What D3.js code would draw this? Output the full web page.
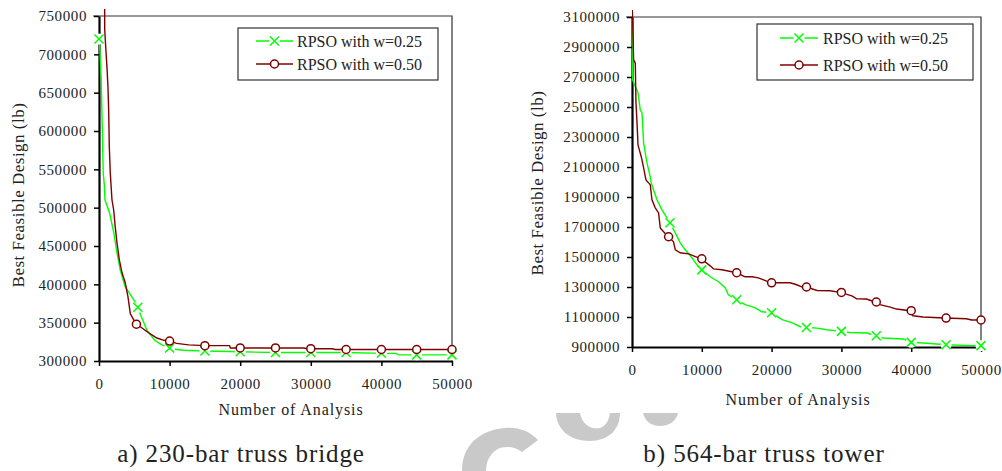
<!DOCTYPE html>
<html>
<head>
<meta charset="utf-8">
<script src="https://cdn.jsdelivr.net/npm/d3@7"></script>
<style>
  body { margin: 0; background: #fff; }
  svg { display: block; font-family: "Liberation Serif", "Times New Roman", serif; }
</style>
</head>
<body>
<svg width="1002" height="471"></svg>
<script>
//series names
var seriesNames = ["RPSO with w=0.25", "RPSO with w=0.50"];
var xTicks = [0, 10000, 20000, 30000, 40000, 50000];

//a) 230-bar truss bridge
var bridgeYTicks = [300000, 350000, 400000, 450000, 500000, 550000, 600000, 650000, 700000, 750000];
var bridgeW25 = [[0,720000],[100,710000],[300,670000],[500,590000],[600,545000],[750,530000],[850,510000],[1500,493000],[2100,467000],[2550,441000],[3000,419000],[3700,397000],[4700,383000],[5100,377000],[5500,370000],[5900,360000],[6800,340000],[7900,327000],[8900,321000],[10000,317000],[11000,315000],[12000,314000],[15000,313000],[20000,312000],[25000,311000],[30000,311000],[35000,311000],[40000,310000],[42000,310000],[42500,308000],[50000,308000]];
var bridgeW50 = [[800,770000],[810,732000],[1000,702000],[1130,683000],[1270,657000],[1370,627000],[1460,579000],[1600,545000],[1750,523000],[1840,510000],[2080,497000],[2300,475000],[2550,454000],[2880,432000],[3260,415000],[3720,402000],[4100,384000],[4430,362000],[4900,354000],[5300,348000],[6100,343000],[7000,337000],[8200,330000],[9200,327000],[10000,326000],[11000,323000],[12700,321000],[15000,320000],[18500,320000],[18600,317000],[29000,317000],[29500,316000],[33000,316000],[33500,315000],[50000,315000]];
var bridgeW25Marks = [[0,720000],[5500,370000],[10000,317000],[15000,313000],[20000,312000],[25000,311000],[30000,311000],[35000,311000],[40000,310000],[45000,308000],[50000,308000]];
var bridgeW50Marks = [[5300,348000],[10000,326000],[15000,320000],[20000,317000],[25000,317000],[30000,316000],[35000,315000],[40000,315000],[45000,315000],[50000,315000]];

//b) 564-bar truss tower
var towerYTicks = [900000, 1100000, 1300000, 1500000, 1700000, 1900000, 2100000, 2300000, 2500000, 2700000, 2900000, 3100000];
var towerW25 = [[0,3200000],[90,3058000],[100,2680000],[470,2636000],[720,2614000],[860,2594000],[1050,2527000],[1190,2480000],[1430,2460000],[1520,2394000],[1660,2261000],[1900,2194000],[2150,2127000],[2380,2081000],[2620,2034000],[2760,1994000],[3090,1947000],[3580,1881000],[4290,1814000],[5010,1761000],[5440,1728000],[6200,1661000],[6910,1594000],[7630,1548000],[8590,1495000],[9300,1448000],[10000,1414000],[11200,1368000],[12400,1335000],[13350,1295000],[13800,1248000],[15000,1215000],[16200,1182000],[17600,1162000],[18600,1135000],[20000,1128000],[21500,1082000],[22900,1062000],[24100,1035000],[25000,1030000],[26500,1026000],[27900,1015000],[30000,1004000],[31200,997000],[33600,993000],[35000,975000],[36000,960000],[38900,953000],[40000,931000],[41700,927000],[43600,920000],[45000,915000],[48700,909000],[50000,909000]];
var towerW50 = [[0,3200000],[100,3060000],[230,2814000],[470,2793000],[570,2527000],[720,2394000],[860,2247000],[1050,2214000],[1330,2167000],[1520,2127000],[1720,2081000],[2000,2014000],[2380,1994000],[2620,1981000],[2860,1881000],[3330,1828000],[3810,1794000],[4050,1694000],[4520,1668000],[5240,1635000],[5950,1601000],[6200,1548000],[6910,1528000],[8100,1521000],[8820,1508000],[9920,1488000],[11200,1441000],[11680,1421000],[12880,1415000],[15000,1395000],[16200,1368000],[17200,1368000],[18100,1361000],[19900,1328000],[22650,1328000],[23600,1315000],[24300,1301000],[25000,1300000],[26500,1277000],[28400,1275000],[29800,1264000],[31500,1241000],[32200,1221000],[33600,1220000],[34800,1200000],[35500,1182000],[37000,1166000],[37900,1153000],[39800,1142000],[40250,1108000],[41700,1100000],[44800,1093000],[47900,1088000],[48650,1080000],[50000,1080000]];
var towerW25Marks = [[5440,1728000],[10000,1414000],[15000,1215000],[20000,1128000],[25000,1030000],[30000,1004000],[35000,975000],[40000,931000],[45000,915000],[50000,909000]];
var towerW50Marks = [[5240,1635000],[10000,1488000],[15000,1395000],[20000,1328000],[25000,1300000],[30000,1264000],[35000,1200000],[40000,1142000],[45000,1093000],[50000,1080000]];

var GREEN = "#00ff00", RED = "#800000", INK = "#222";

var svg = d3.select("svg");

//faint watermark behind everything
var wm = svg.append("g").attr("fill", "#c9c9c9");
wm.append("path").attr("d", "M462,471 C462,445 480,430 505,428 C520,427 530,432 538,440 L522,452 C515,447 508,446 500,448 C490,452 486,462 486,471 Z");
wm.append("path").attr("d", "M556,413 L580,413 C582,425 592,430 600,428 C606,426 609,420 610,413 L620,413 C620,430 608,441 590,441 C570,441 557,430 556,413 Z");
wm.append("path").attr("d", "M643,413 L678,413 C676,422 668,426 660,426 C651,426 645,421 643,413 Z");

function drawPanel(p) {
    var x = d3.scaleLinear().domain([0, 50000]).range([p.left, p.right]);
    var y = d3.scaleLinear().domain(p.yDomain).range([p.bottom, p.top]);

    var g = svg.append("g");

    //frame top + right
    g.append("path")
        .attr("d", "M" + (p.left - 6) + "," + p.top + "H" + p.right + "V" + p.bottom)
        .attr("fill", "none").attr("stroke", "#333").attr("stroke-width", 1.2);

    //y axis
    var yAxis = g.append("g")
        .attr("transform", "translate(" + p.left + ",0)")
        .call(d3.axisLeft(y).tickValues(p.yTicks).tickSize(5).tickSizeOuter(0).tickPadding(7).tickFormat(d3.format("d")));
    //x axis
    var xAxis = g.append("g")
        .attr("transform", "translate(0," + p.bottom + ")")
        .call(d3.axisBottom(x).tickValues(xTicks).tickSize(5).tickSizeOuter(0).tickPadding(12).tickFormat(d3.format("d")));

    [yAxis, xAxis].forEach(function (a) {
        a.select(".domain").attr("stroke", "#000").attr("stroke-width", 2.2);
        a.selectAll(".tick line").attr("stroke", "#000").attr("stroke-width", 1.5);
        a.selectAll("text")
            .attr("fill", INK)
            .style("font-family", "'Liberation Serif', 'Times New Roman', serif")
            .style("font-size", "15px")
            .style("letter-spacing", "0.6px");
    });

    //clip so lines can poke slightly past the top
    var clipId = "clip" + p.id;
    svg.append("clipPath").attr("id", clipId)
        .append("rect")
        .attr("x", p.left).attr("y", p.top - 7)
        .attr("width", p.right - p.left + 4).attr("height", p.bottom - p.top + 7);

    var line = d3.line()
        .x(function (d) { return x(d[0]); })
        .y(function (d) { return y(d[1]); });

    var series = [
        { data: p.w25, marks: p.w25Marks, color: GREEN, kind: "x" },
        { data: p.w50, marks: p.w50Marks, color: RED, kind: "o" }
    ];

    series.forEach(function (s) {
        var sg = g.append("g");
        sg.append("path")
            .attr("clip-path", "url(#" + clipId + ")")
            .attr("d", line(s.data))
            .attr("fill", "none")
            .attr("stroke", s.color)
            .attr("stroke-width", 1.4);

        var m = sg.selectAll(".mark")
            .data(s.marks)
            .enter()
            .append("g")
            .attr("class", "mark")
            .attr("transform", function (d) { return "translate(" + x(d[0]) + "," + y(d[1]) + ")"; });
        drawMarker(m, s.kind, s.color);
    });

    //legend
    var lg = g.append("g");
    lg.append("rect")
        .attr("x", p.legend.x).attr("y", p.legend.y)
        .attr("width", p.legend.w).attr("height", p.legend.h)
        .attr("fill", "#fff").attr("stroke", "#333").attr("stroke-width", 1.2);
    series.forEach(function (s, i) {
        var ly = p.legend.rows[i];
        lg.append("line")
            .attr("x1", p.legend.lineX0).attr("x2", p.legend.lineX1)
            .attr("y1", ly).attr("y2", ly)
            .attr("stroke", s.color).attr("stroke-width", 1.4);
        var m = lg.append("g")
            .attr("transform", "translate(" + ((p.legend.lineX0 + p.legend.lineX1) / 2) + "," + ly + ")");
        drawMarker(m, s.kind, s.color);
        lg.append("text")
            .attr("x", p.legend.textX).attr("y", ly + 5.5)
            .attr("fill", INK)
            .style("font-size", "16px")
            .text(seriesNames[i]);
    });

    //axis titles
    g.append("text")
        .attr("x", p.xTitle[0]).attr("y", p.xTitle[1])
        .attr("text-anchor", "middle")
        .attr("fill", INK)
        .style("font-size", "16px")
        .style("letter-spacing", "0.9px")
        .text("Number of Analysis");

    g.append("text")
        .attr("transform", "translate(" + p.yTitle[0] + "," + p.yTitle[1] + ") rotate(-90)")
        .attr("text-anchor", "middle")
        .attr("fill", INK)
        .style("font-size", "17px")
        .style("letter-spacing", "0.5px")
        .text("Best Feasible Design (lb)");

    //caption
    g.append("text")
        .attr("x", p.caption[0]).attr("y", p.caption[1])
        .attr("text-anchor", "middle")
        .attr("fill", INK)
        .style("font-size", "25px")
        .style("letter-spacing", "0.9px")
        .text(p.captionText);
}

function drawMarker(sel, kind, color) {
    if (kind === "x") {
        sel.append("circle").attr("r", 5.5).attr("fill", "#fff");
        sel.append("path")
            .attr("d", "M-4.5,-4.5L4.5,4.5M-4.5,4.5L4.5,-4.5")
            .attr("stroke", color).attr("stroke-width", 1.5).attr("fill", "none");
    } else {
        sel.append("circle")
            .attr("r", 4)
            .attr("fill", "#fff")
            .attr("stroke", color).attr("stroke-width", 1.5);
    }
}

drawPanel({
    id: "a",
    left: 99, right: 452, top: 16, bottom: 361,
    yDomain: [300000, 750000], yTicks: bridgeYTicks,
    w25: bridgeW25, w50: bridgeW50, w25Marks: bridgeW25Marks, w50Marks: bridgeW50Marks,
    legend: { x: 238, y: 28, w: 200, h: 52, rows: [41, 64], lineX0: 256, lineX1: 293, textX: 297 },
    xTitle: [291, 415], yTitle: [24, 195],
    caption: [241, 462], captionText: "a) 230-bar truss bridge"
});

drawPanel({
    id: "b",
    left: 632, right: 981, top: 17, bottom: 347,
    yDomain: [900000, 3100000], yTicks: towerYTicks,
    w25: towerW25, w50: towerW50, w25Marks: towerW25Marks, w50Marks: towerW50Marks,
    legend: { x: 757, y: 24, w: 216, h: 56, rows: [38, 65], lineX0: 780, lineX1: 818, textX: 823 },
    xTitle: [798, 405], yTitle: [543, 183],
    caption: [764, 462], captionText: "b) 564-bar truss tower"
});
</script>
</body>
</html>
